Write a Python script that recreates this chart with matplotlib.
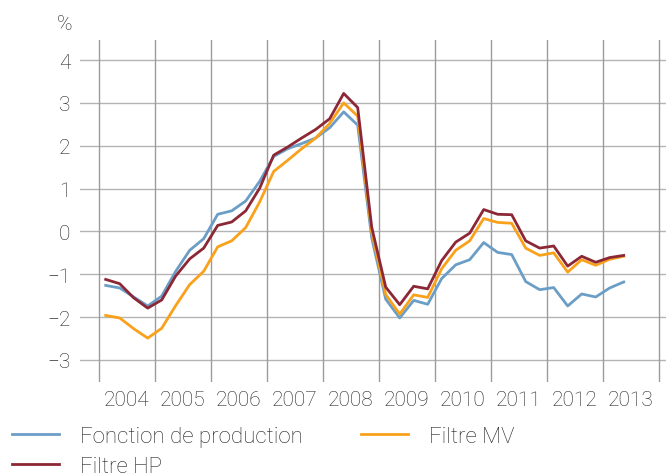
import numpy as np
import pandas as pd
import matplotlib
matplotlib.use("Agg")
import matplotlib.pyplot as plt

# Quarterly output gap estimates, 2004Q1 - 2013Q2 (%)
quarters = pd.period_range("2004Q1", "2013Q2", freq="Q")

fonction_production = [-1.26, -1.32, -1.53, -1.74, -1.51, -0.93, -0.44, -0.17,
                       0.40, 0.48, 0.71, 1.17, 1.75, 1.93, 2.05, 2.18,
                       2.42, 2.79, 2.48, -0.15, -1.58, -2.02, -1.61, -1.70,
                       -1.10, -0.78, -0.66, -0.26, -0.49, -0.54, -1.17, -1.36,
                       -1.31, -1.74, -1.46, -1.53, -1.32, -1.18]

filtre_hp = [-1.12, -1.22, -1.55, -1.79, -1.60, -1.04, -0.64, -0.39,
             0.14, 0.22, 0.48, 1.01, 1.78, 1.97, 2.18, 2.38,
             2.63, 3.22, 2.89, 0.10, -1.30, -1.71, -1.28, -1.34,
             -0.68, -0.25, -0.04, 0.51, 0.40, 0.39, -0.22, -0.39,
             -0.34, -0.81, -0.58, -0.72, -0.61, -0.56]

filtre_mv = [-1.96, -2.02, -2.27, -2.49, -2.26, -1.73, -1.24, -0.93,
             -0.36, -0.22, 0.09, 0.69, 1.40, 1.66, 1.93, 2.18,
             2.52, 3.00, 2.69, -0.02, -1.47, -1.93, -1.48, -1.54,
             -0.87, -0.44, -0.22, 0.30, 0.21, 0.19, -0.39, -0.56,
             -0.50, -0.95, -0.66, -0.79, -0.65, -0.58]

years = list(range(2004, 2014))
y_ticks = [-3, -2, -1, 0, 1, 2, 3, 4]

# Colours
c_blue = "#6b9ec6"
c_orange = "#f9a11b"
c_red = "#8c2736"
c_text = "#222222"

plt.rcParams["font.family"] = ["Roboto", "DejaVu Sans"]
plt.rcParams["font.weight"] = "light"

# quarter mid-points on a year axis
x = np.array([q.year + (q.quarter - 0.5) / 4 for q in quarters])

fig = plt.figure(figsize=(6.66, 4.77), dpi=100)
ax = fig.add_axes([80 / 666, 94 / 477, 586 / 666, 342 / 477])

l1, = ax.plot(x, fonction_production, color=c_blue, lw=2, label="Fonction de production")
l3, = ax.plot(x, filtre_mv, color=c_orange, lw=2, label="Filtre MV")
l2, = ax.plot(x, filtre_hp, color=c_red, lw=2, label="Filtre HP")

ax.set_xlim(2004 - 18.7 / 56, 2004 + 567.3 / 56)
ax.set_ylim(-3.514, 4.467)

# horizontal grid
for v in y_ticks:
    ax.axhline(v, color="#b4b4b4", lw=1.0, zorder=0)
# vertical grid at year boundaries
for yr in years + [2014]:
    ax.axvline(yr, color="#9c9c9c", lw=1.0, zorder=0)

ax.set_yticks(y_ticks)
ax.set_yticklabels([f"{v}".replace("-", "\u2212") for v in y_ticks])
ax.set_xticks([yr + 0.5 for yr in years])
ax.set_xticklabels([str(yr) for yr in years])
ax.tick_params(axis="y", length=0, pad=7, labelsize=15, labelcolor=c_text)
ax.tick_params(axis="x", length=0, pad=6, labelsize=15, labelcolor=c_text)
for s in ax.spines.values():
    s.set_visible(False)

fig.text(72 / 666, 1 - 25 / 477, "%", ha="right", va="center", fontsize=15, color=c_text)

# legend: two columns placed separately
leg_kw = dict(frameon=False, fontsize=16, handlelength=2.1, handletextpad=0.95,
              borderpad=0, borderaxespad=0, labelspacing=0.4, loc="upper left",
              labelcolor=c_text)
leg1 = fig.legend(handles=[l1, l2], bbox_to_anchor=(12 / 666, 1 - 427 / 477), **leg_kw)
leg2 = fig.legend(handles=[l3], bbox_to_anchor=(361 / 666, 1 - 427 / 477), **leg_kw)

fig.savefig("out.png", dpi=100)
